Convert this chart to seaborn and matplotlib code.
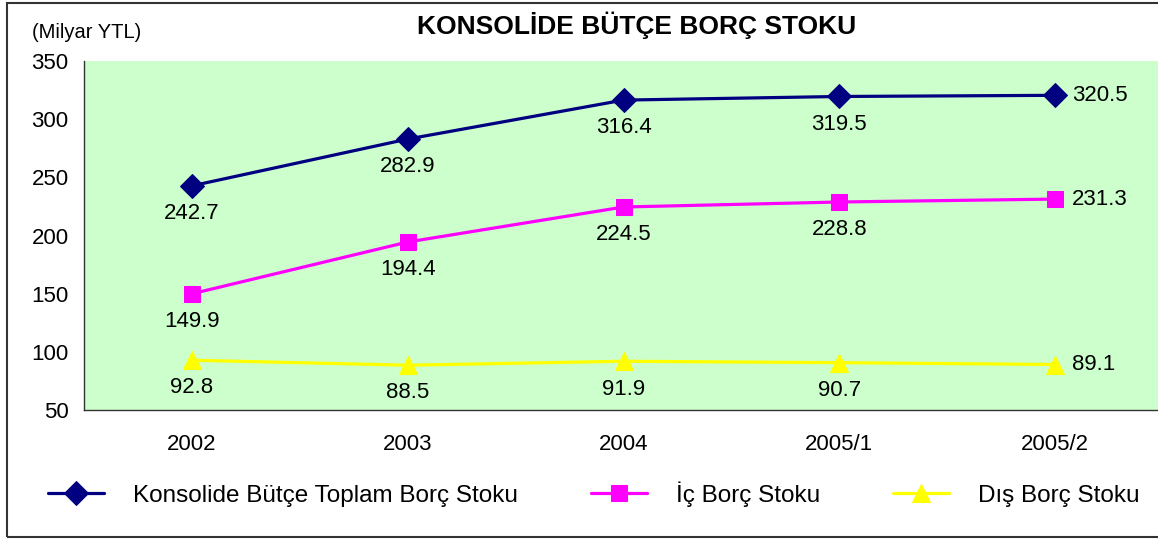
import pandas as pd
import matplotlib
matplotlib.use("Agg")
import matplotlib.pyplot as plt
import seaborn as sns
from matplotlib.patches import Rectangle

periods = ["2002", "2003", "2004", "2005/1", "2005/2"]
toplam = [242.7, 282.9, 316.4, 319.5, 320.5]
ic_borc = [149.9, 194.4, 224.5, 228.8, 231.3]
dis_borc = [92.8, 88.5, 91.9, 90.7, 89.1]

series_names = ["Konsolide Bütçe Toplam Borç Stoku", "İç Borç Stoku", "Dış Borç Stoku"]
series_values = [toplam, ic_borc, dis_borc]
colors = ["#000080", "#FF00FF", "#FFFF00"]
markers = ["D", "s", "^"]
marker_sizes = [12, 11.5, 13]

sns.set_theme(style="white")
plt.rcParams["font.family"] = ["Liberation Sans", "DejaVu Sans"]
plt.rcParams["text.color"] = "black"
plt.rcParams["xtick.color"] = "black"
plt.rcParams["ytick.color"] = "black"

fig = plt.figure(figsize=(11.58, 5.39), dpi=100)
W, H = 1158, 539
ax = fig.add_axes([84 / W, 1 - 410 / H, (1163 - 84) / W, (410 - 61) / H])
ax.set_facecolor("#CCFFCC")

for name, vals, c, m, ms in zip(series_names, series_values, colors, markers, marker_sizes):
    df = pd.DataFrame({"x": range(len(periods)), "y": vals})
    sns.lineplot(data=df, x="x", y="y", ax=ax, color=c, marker=m, markersize=ms,
                 markeredgecolor=c, linewidth=2.3, label=name)
    for i, v in enumerate(vals):
        if i == len(vals) - 1:
            ax.annotate(f"{v:.1f}", (i, v), xytext=(12, 0), textcoords="offset points",
                        ha="left", va="center", fontsize=16, color="black")
        else:
            ax.annotate(f"{v:.1f}", (i, v), xytext=(0, -20), textcoords="offset points",
                        ha="center", va="center", fontsize=16, color="black")

ax.set_xlim(-0.5, 4.5)
ax.set_ylim(50, 350)
ax.set_yticks(range(50, 351, 50))
ax.set_xticks(range(len(periods)))
ax.set_xticklabels(periods)
ax.set_xticks([i - 0.5 for i in range(len(periods) + 1)], minor=True)
ax.tick_params(axis="x", which="major", length=0, pad=17.5, labelsize=16)
ax.tick_params(axis="x", which="minor", length=5, width=1, direction="out", color="#333333")
ax.tick_params(axis="y", length=5, width=1, direction="out", color="#333333", pad=6, labelsize=16)
ax.set_xlabel("")
ax.set_ylabel("")
for side in ["top", "right"]:
    ax.spines[side].set_visible(False)
for side in ["left", "bottom"]:
    ax.spines[side].set_color("#333333")
    ax.spines[side].set_linewidth(1)

handles, labels = ax.get_legend_handles_labels()
ax.get_legend().remove()
fig.legend(handles, labels, loc="center", bbox_to_anchor=(594 / W, 1 - 494 / H), ncol=3,
           frameon=False, fontsize=17.5, handlelength=2.3, handletextpad=1.2, columnspacing=3.0)

fig.text(637 / W, 1 - 25 / H, "KONSOLİDE BÜTÇE BORÇ STOKU", ha="center", va="center",
         fontsize=19, fontweight="bold")
fig.text(32 / W, 1 - 33 / H, "(Milyar YTL)", ha="left", va="center", fontsize=14.5)

fig.patches.append(Rectangle((7 / W, 1 - 537 / H), (1175 - 7) / W, (537 - 3) / H,
                             transform=fig.transFigure, fill=False, edgecolor="#333333",
                             linewidth=1.5))

fig.savefig("out.png", dpi=100)
